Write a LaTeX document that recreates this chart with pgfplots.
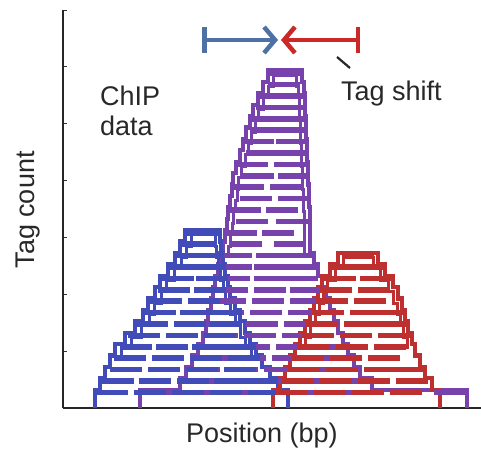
\documentclass[border=0pt]{standalone}
\usepackage{pgfplots}
\usepackage{pgfplotstable}
\pgfplotsset{compat=1.18}
\usepackage{fontspec}
\setmainfont{Liberation Sans}
\usetikzlibrary{arrows.meta}
\definecolor{tagblue}{RGB}{66,76,184}
\definecolor{tagpurple}{RGB}{120,66,172}
\definecolor{tagred}{RGB}{190,48,48}
\definecolor{arrblue}{RGB}{78,112,165}
\definecolor{arrred}{RGB}{205,40,40}
\definecolor{txt}{RGB}{40,40,40}

% tag centres: x (px), row
\pgfplotstableread{
x r
112 1
150 1
188 1
226 1
264 1
118 2
155 2
193 2
230 2
262 2
126 3
164 3
202 3
240 3
130 4
168 4
206 4
244 4
136 5
172 5
208 5
240 5
144 6
182 6
220 6
152 7
190 7
226 7
160 8
196 8
226 8
166 9
204 9
174 10
210 10
178 11
212 11
186 12
210 12
192 13
208 13
198 14
202 15
}\bluetags

\pgfplotstableread{
x r
160 1
198 1
236 1
274 1
312 1
350 1
450 1
198 2
236 2
274 2
312 2
350 2
204 3
242 3
280 3
318 3
212 4
250 4
288 4
326 4
216 5
254 5
292 5
328 5
222 6
260 6
298 6
224 7
262 7
300 7
228 8
266 8
304 8
230 9
268 9
306 9
232 10
270 10
306 10
234 11
270 11
302 11
236 12
270 12
300 12
236 13
272 13
300 13
246 14
290 14
241 15
278 15
252 16
292 16
245 17
282 17
256 18
294 18
248 19
286 19
258 20
294 20
252 21
290 21
262 22
292 22
258 23
292 23
266 24
290 24
266 25
292 25
272 26
290 26
276 27
288 27
284 28
285 29
}\purpletags

\pgfplotstableread{
x r
292 1
330 1
368 1
406 1
298 2
336 2
374 2
412 2
304 3
342 3
380 3
408 3
308 4
346 4
384 4
314 5
352 5
390 5
318 6
356 6
394 6
322 7
360 7
392 7
328 8
366 8
389 8
332 9
370 9
336 10
374 10
340 11
376 11
348 12
368 12
358 13
}\redtags

\begin{document}
\begin{tikzpicture}[x=1pt,y=1pt]
\begin{axis}[
  scale only axis, width=418pt, height=398pt,
  xmin=63, xmax=481, ymin=0, ymax=34.91,
  axis x line*=bottom, axis y line*=left,
  axis line style={line width=2.8pt, black!85},
  xtick=\empty, ytick={5,10,15,20,25,30,34.91}, yticklabels={},
  major tick length=4pt, tick align=inside,
  tick style={line width=0.8pt, black!80},
  clip=false,
  tags/.style={only marks, mark=-, mark size=16pt, forget plot,
    mark options={draw=#1, line width=5.6pt, line cap=butt}},
  outline/.style={const plot mark right, mark=none, draw=#1, line width=4.2pt, line join=miter,
    y filter/.expression={y<0.5 ? 0 : y+0.6}},
  outline2/.style={const plot mark right, mark=none, draw=#1, line width=3pt, line join=miter,
    y filter/.expression={y+0.6}},
]
% tags
\addplot[tags=tagpurple] table[x=x, y expr=\thisrow{r}+0.37] {\purpletags};
\addplot[tags=tagblue] table[x=x, y expr=\thisrow{r}+0.37] {\bluetags};
\addplot[tags=tagred] table[x=x, y expr=\thisrow{r}+0.37] {\redtags};
% outlines
\addplot[outline=tagpurple] coordinates {
 (140,0) (180,1) (186,2) (192,3) (198,4) (203,5) (206,6) (208,7) (211,8) (213,9)
 (215,10) (218,11) (220,12) (223,13) (225,14) (227,15) (228,16) (230,17) (232,18)
 (233,19) (236,20) (240,21) (243,22) (246,23) (250,24) (253,25) (258,26) (263,27) (268,28)
 (302,29) (304,28) (305,27) (305,26) (306,25) (306,24) (307,23) (307,22) (308,21)
 (308,20) (309,19) (309,18) (310,17) (310,16) (310,15) (310,14) (314,13) (318,12)
 (322,11) (326,10) (330,9) (334,8) (338,7) (343,6) (348,5) (354,4) (360,3) (372,2) (467,1) (467,0)
};
\addplot[outline2=tagpurple] coordinates {
 (228,12.6) (230,13.6) (232,14.6) (233,15.6) (235,16.6) (237,17.6) (238,18.6) (241,19.6)
 (245,20.6) (248,21.6) (251,22.6) (255,23.6) (258,24.6) (263,25.6) (268,26.6) (273,27.6)
 (296,28.6) (298,27.6) (299,26.6) (299,25.6) (300,24.6) (300,23.6) (301,22.6) (301,21.6)
 (302,20.6) (302,19.6) (303,18.6) (303,17.6) (304,16.6) (304,15.6) (304,14.6) (304,13.6) (304,12.6)
};
\addplot[outline=tagblue] coordinates {
 (95,0) (100,1) (105,2) (110,3) (115,4) (125,5) (135,6) (143,7) (148,8) (155,9)
 (160,10) (168,11) (175,12) (180,13) (185,14)
 (220,15) (221,14) (223,13) (225,12) (228,11) (230,10) (235,9) (240,8) (245,7)
 (250,6) (256,5) (262,4) (270,3) (278,2) (288,1) (288,0)
};
\addplot[outline2=tagblue] coordinates {
 (121,3.6) (131,4.6) (141,5.6) (149,6.6) (154,7.6) (161,8.6) (166,9.6) (174,10.6)
 (181,11.6) (186,12.6) (191,13.6)
 (215,14.6) (216,13.6) (218,12.6) (220,11.6) (223,10.6) (225,9.6) (230,8.6) (235,7.6)
 (240,6.6) (245,5.6) (251,4.6) (251,3.6)
};
\addplot[outline=tagred] coordinates {
 (273,0) (280,1) (285,2) (290,3) (295,4) (300,5) (305,6) (310,7) (314,8) (318,9)
 (322,10) (330,11) (338,12)
 (378,13) (385,12) (393,11) (398,10) (402,9) (405,8) (408,7) (412,6) (415,5)
 (420,4) (425,3) (432,2) (440,1) (440,0)
};
\addplot[outline2=tagred] coordinates {
 (305,4.6) (310,5.6) (315,6.6) (319,7.6) (323,8.6) (327,9.6) (335,10.6) (343,11.6)
 (373,12.6) (380,11.6) (388,10.6) (393,9.6) (397,8.6) (400,7.6) (403,6.6) (407,5.6) (407,4.6)
};
% tag shift arrows
\draw[arrblue, line width=4.5pt, {Bar[width=26pt]}-{Straight Barb[length=11pt, width=26pt]}]
  (axis cs:202,32.28) -- (axis cs:278,32.28);
\draw[arrred, line width=4.5pt, {Bar[width=26pt]}-{Straight Barb[length=11pt, width=26pt]}]
  (axis cs:360,32.28) -- (axis cs:281,32.28);
\draw[black!85, line width=2.2pt] (axis cs:337,30.79) -- (axis cs:350,29.82);
% texts
\node[txt, anchor=north west, align=left, inner sep=0pt, font=\fontsize{27}{30}\selectfont]
  at (axis cs:100,28.3) {ChIP\\data};
\node[txt, anchor=north west, inner sep=0pt, font=\fontsize{27}{30}\selectfont]
  at (axis cs:341,28.7) {Tag shift};
\node[txt, font=\fontsize{27}{30}\selectfont] at (axis cs:262,-2.37) {Position (bp)};
\node[txt, rotate=90, font=\fontsize{27}{30}\selectfont] at (axis cs:28,17.37) {Tag count};
\end{axis}
\pgfresetboundingbox
\path[use as bounding box] ([xshift=-63pt,yshift=-42pt]current axis.south west)
  rectangle ([yshift=10pt]current axis.north east);
\end{tikzpicture}
\end{document}
